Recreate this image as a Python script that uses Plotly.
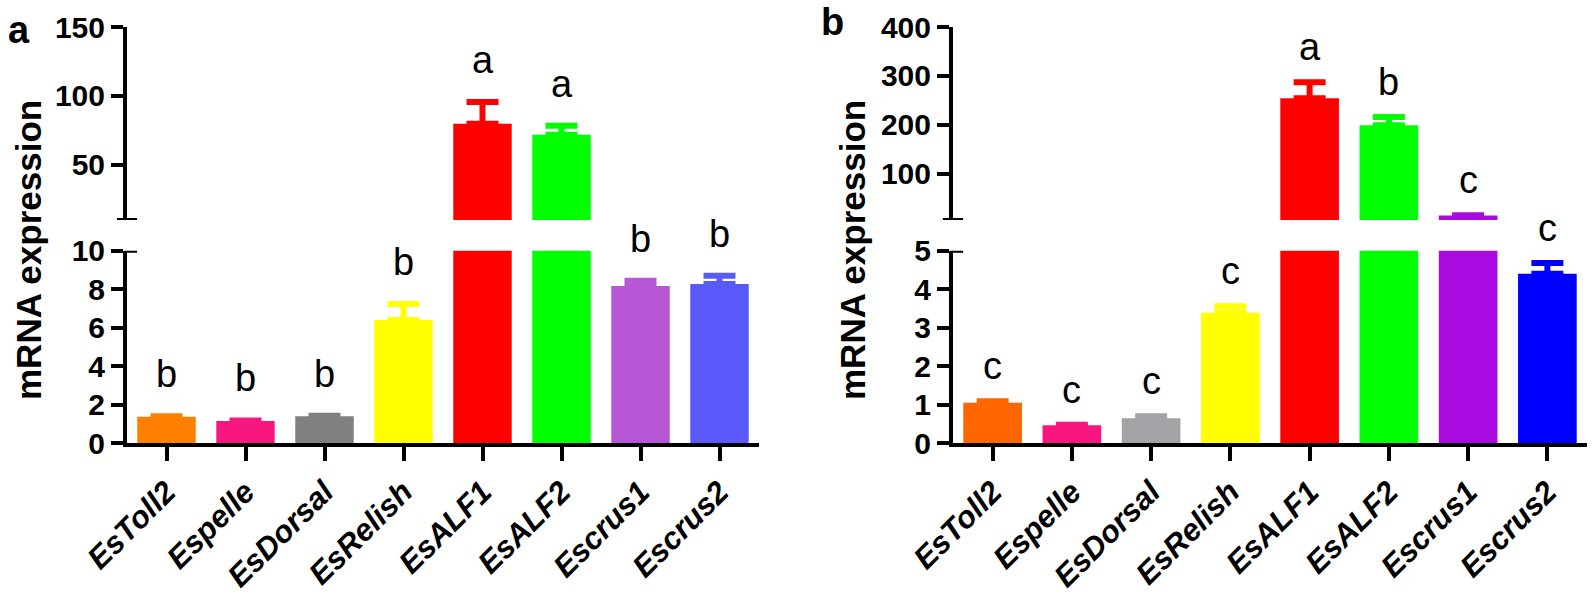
import plotly.graph_objects as go

categories = ["EsToll2", "Espelle", "EsDorsal", "EsRelish", "EsALF1", "EsALF2", "Escrus1", "Escrus2"]

a_values = [1.38, 1.16, 1.40, 6.40, 79.9, 71.8, 8.17, 8.27]
a_errors = [0.03, 0.03, 0.03, 0.83, 15.7, 6.6, 0.27, 0.43]
a_letters = ["b", "b", "b", "b", "a", "a", "b", "b"]
a_colors = ["#FF8000", "#F7187F", "#808080", "#FFFF00", "#FF0000", "#00FF00", "#B657D6", "#5A5AFA"]

b_values = [1.05, 0.47, 0.65, 3.39, 254, 199, 14.0, 4.40]
b_errors = [0.04, 0.01, 0.05, 0.17, 33, 17, 0.5, 0.28]
b_letters = ["c", "c", "c", "c", "a", "b", "c", "c"]
b_colors = ["#FF6600", "#F7157F", "#A3A2A6", "#FFFF00", "#FF0000", "#00FF00", "#A90ADF", "#0000FF"]

a_low_ticks = [0, 2, 4, 6, 8, 10]
a_high_ticks = [50, 100, 150]
b_low_ticks = [0, 1, 2, 3, 4, 5]
b_high_ticks = [100, 200, 300, 400]

a_low_range = [0, 10]
a_high_range = [10, 150]
b_low_range = [0, 5]
b_high_range = [5, 400]

W, H = 1594, 595
FONT = "Arial, Liberation Sans, sans-serif"

fig = go.Figure()

def px_x(p):
    return p / W

def px_y(p):
    return 1 - p / H

panels = [
    dict(vals=a_values, errs=a_errors, letters=a_letters, colors=a_colors,
         low_ticks=a_low_ticks, high_ticks=a_high_ticks,
         low_range=a_low_range, high_range=a_high_range, letter_gap=19,
         xdom=[px_x(127), px_x(759)], low_ax=("x", "y"), high_ax=("x2", "y2")),
    dict(vals=b_values, errs=b_errors, letters=b_letters, colors=b_colors,
         low_ticks=b_low_ticks, high_ticks=b_high_ticks,
         low_range=b_low_range, high_range=b_high_range, letter_gap=12,
         xdom=[px_x(953), px_x(1587)], low_ax=("x3", "y3"), high_ax=("x4", "y4")),
]

low_dom = [px_y(443.3), px_y(250.7)]
high_dom = [px_y(220), px_y(27)]

annotations = []
shapes = []

for p in panels:
    brk = p["low_range"][1]
    for i, cat in enumerate(categories):
        v, e, c = p["vals"][i], p["errs"][i], p["colors"][i]
        show_err_low = v + e <= brk
        fig.add_trace(go.Bar(
            x=[cat], y=[v], width=0.74, marker=dict(color=c, line=dict(width=0)),
            xaxis=p["low_ax"][0], yaxis=p["low_ax"][1], showlegend=False,
            error_y=dict(type="data", symmetric=False, array=[e], arrayminus=[0],
                         color=c, thickness=6, width=16, visible=show_err_low),
        ))
        if v > brk:
            fig.add_trace(go.Bar(
                x=[cat], y=[v], width=0.74, marker=dict(color=c, line=dict(width=0)),
                xaxis=p["high_ax"][0], yaxis=p["high_ax"][1], showlegend=False,
                error_y=dict(type="data", symmetric=False, array=[e], arrayminus=[0],
                             color=c, thickness=6, width=16, visible=True),
            ))
            ax = p["high_ax"]
        else:
            ax = p["low_ax"]
        annotations.append(dict(
            x=cat, y=v + e, xref=ax[0], yref=ax[1], text=p["letters"][i],
            showarrow=False, yanchor="bottom", yshift=p["letter_gap"],
            font=dict(family=FONT, size=38, color="black"),
        ))

axis_common = dict(showgrid=False, zeroline=False, showline=True, linecolor="black",
                   linewidth=4, ticks="outside", tickcolor="black", tickwidth=4,
                   automargin=False)

layout = dict(width=W, height=H, margin=dict(l=0, r=0, t=0, b=0),
              plot_bgcolor="white", paper_bgcolor="white", barmode="overlay",
              showlegend=False)

for k, p in enumerate(panels):
    lx, ly = p["low_ax"]
    hx, hy = p["high_ax"]
    lxn = "xaxis" + lx[1:]
    lyn = "yaxis" + ly[1:]
    hxn = "xaxis" + hx[1:]
    hyn = "yaxis" + hy[1:]
    layout[lxn] = dict(axis_common, domain=p["xdom"], anchor=ly, type="category",
                       categoryorder="array", categoryarray=categories,
                       range=[-0.5, 7.5], ticklen=14, tickangle=-45,
                       tickfont=dict(family=FONT, size=31, color="black",
                                     weight="bold", style="italic"))
    layout[lyn] = dict(axis_common, domain=low_dom, anchor=lx, range=p["low_range"],
                       tickvals=p["low_ticks"], ticklen=12,
                       tickfont=dict(family=FONT, size=30, color="black", weight="bold"))
    layout[hxn] = dict(domain=p["xdom"], anchor=hy, type="category",
                       categoryorder="array", categoryarray=categories,
                       range=[-0.5, 7.5], visible=False, matches=lx)
    layout[hyn] = dict(axis_common, domain=high_dom, anchor=hx, range=p["high_range"],
                       tickvals=p["high_ticks"], ticklen=12,
                       tickfont=dict(family=FONT, size=30, color="black", weight="bold"))
    shapes.append(dict(type="line", xref=hx + " domain", yref=hy,
                       x0=-0.016, x1=0.016, y0=p["high_range"][0], y1=p["high_range"][0],
                       line=dict(color="black", width=4)))
    shapes.append(dict(type="line", xref=lx + " domain", yref=ly,
                       x0=-0.005, x1=0.016, y0=p["low_range"][1], y1=p["low_range"][1],
                       line=dict(color="black", width=4)))

annotations.append(dict(x=px_x(28), y=px_y(250), xref="paper", yref="paper",
                        text="mRNA expression", textangle=-90, showarrow=False,
                        xanchor="center", yanchor="middle",
                        font=dict(family=FONT, size=35, color="black", weight="bold")))
annotations.append(dict(x=px_x(852), y=px_y(250), xref="paper", yref="paper",
                        text="mRNA expression", textangle=-90, showarrow=False,
                        xanchor="center", yanchor="middle",
                        font=dict(family=FONT, size=35, color="black", weight="bold")))
annotations.append(dict(x=px_x(6), y=px_y(30), xref="paper", yref="paper",
                        text="a", showarrow=False, xanchor="left", yanchor="middle",
                        font=dict(family=FONT, size=38, color="black", weight="bold")))
annotations.append(dict(x=px_x(819), y=px_y(22), xref="paper", yref="paper",
                        text="b", showarrow=False, xanchor="left", yanchor="middle",
                        font=dict(family=FONT, size=38, color="black", weight="bold")))

layout["annotations"] = annotations
layout["shapes"] = shapes
fig.update_layout(**layout)

fig.write_html("out.html", config={"displayModeBar": False},
               post_script="document.body.style.margin='0';")
